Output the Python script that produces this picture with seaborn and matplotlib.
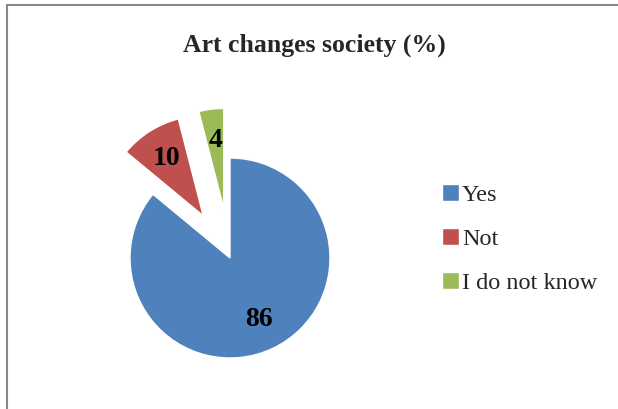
import matplotlib
matplotlib.use("Agg")
import matplotlib.pyplot as plt
from matplotlib.patches import Rectangle
import seaborn as sns

categories = ["Yes", "Not", "I do not know"]
values = [86, 10, 4]
colors = ["#4F81BD", "#C0504D", "#9BBB59"]
explode = [0.0, 0.5, 0.5]
title = "Art changes society (%)"

sns.set_theme(style="white")
plt.rcParams["font.family"] = ["Liberation Serif", "DejaVu Serif"]

W, H = 618, 409
fig = plt.figure(figsize=(W / 100, H / 100), dpi=100)
fig.patch.set_facecolor("white")

# pie axes: 200 px square, centre at (230, 258) px from top-left
cx, cy, r = 230, 258, 100
ax = fig.add_axes([(cx - r) / W, (H - cy - r) / H, 2 * r / W, 2 * r / H])
wedges, texts, autotexts = ax.pie(
    values,
    colors=sns.color_palette(colors),
    explode=explode,
    startangle=90,
    counterclock=False,
    radius=1,
    autopct=lambda p: f"{p:.0f}",
    pctdistance=0.68,
    textprops=dict(fontsize=20, fontweight="bold", color="black"),
)
for w in wedges:
    w.set_clip_on(False)
for t in autotexts:
    t.set_clip_on(False)
ax.set_xlim(-1, 1)
ax.set_ylim(-1, 1)
ax.set_aspect("equal")
ax.axis("off")

fig.text(314 / W, 1 - 45 / H, title, ha="center", va="center",
         fontsize=18.5, fontweight="bold")

leg = fig.legend(wedges, categories, loc="center left",
                 bbox_to_anchor=(420 / W, 1 - 239 / H),
                 frameon=False, fontsize=17.5, handlelength=0.7,
                 handleheight=0.7, handletextpad=0.12, labelspacing=0.92)

# chart-area border (left and top edges visible)
fig.patches.append(Rectangle((6.5 / W, -0.1), 2.0, 1.0 - 5 / H + 0.1,
                             transform=fig.transFigure, fill=False,
                             edgecolor="#888888", linewidth=1.5))

fig.savefig("out.png", dpi=100)
